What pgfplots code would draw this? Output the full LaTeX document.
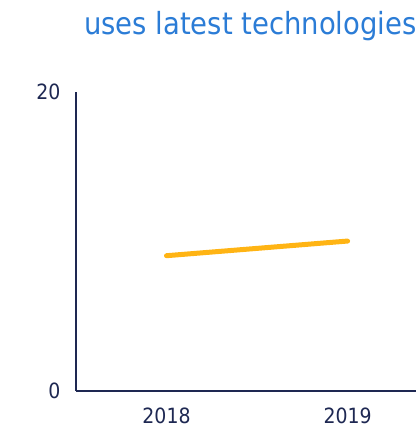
\documentclass[border=0pt]{standalone}
\usepackage{fontspec}
\setmainfont{DejaVu Sans Condensed}
\usepackage{pgfplots}
\pgfplotsset{compat=1.18}
\definecolor{navy}{RGB}{30,40,82}
\definecolor{titleblue}{RGB}{43,124,214}
\definecolor{lineorange}{RGB}{255,180,20}
\begin{document}
\begin{tikzpicture}
\path[use as bounding box] (0,0) rectangle (416bp,431bp);
\node[anchor=base west, inner sep=0pt, text=titleblue, font=\fontsize{30.5bp}{36bp}\selectfont] at (84bp,396bp) {uses latest technologies};
\begin{axis}[
  at={(76bp,40bp)}, anchor=origin,
  scale only axis, width=340bp, height=299bp,
  xmin=2017.5, xmax=2019.378, ymin=0, ymax=20,
  axis x line=bottom, axis y line=left,
  axis line style={-, draw=navy, line width=1.5bp},
  xtick={2018,2019}, ytick={0,20},
  xticklabels={2018,2019},
  major tick length=0pt,
  tick style={draw=none},
  /pgf/number format/assume math mode=true,
  ticklabel style={text=navy, font=\fontsize{21bp}{25bp}\selectfont},
  xticklabel style={yshift=-13bp},
  yticklabel style={xshift=-12bp},
  clip=false,
]
\addplot[draw=lineorange, line width=5bp, line cap=round] coordinates {(2018,9.05) (2019,10.03)};
\end{axis}
\end{tikzpicture}
\end{document}
